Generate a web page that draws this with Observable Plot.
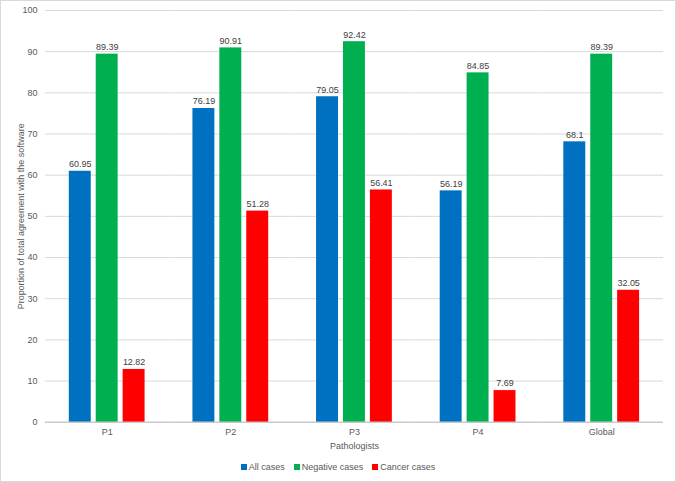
<!DOCTYPE html>
<html>
<head>
<meta charset="utf-8">
<script src="https://cdn.jsdelivr.net/npm/d3@7"></script>
<script src="https://cdn.jsdelivr.net/npm/@observablehq/plot@0.6"></script>
<style>
  html, body { margin: 0; padding: 0; background: #fff; }
  #chart { position: relative; width: 676px; height: 482px; box-sizing: border-box; border: 1px solid #d9d9d9; overflow: hidden; font-family: "Liberation Sans", sans-serif; }
  #chart svg { position: absolute; left: -1px; top: -1px; }
  #legend { position: absolute; left: 0; top: 461px; width: 100%; display: flex; justify-content: center; gap: 9px; font-size: 9px; color: #595959; }
  #legend span.sw { display: inline-block; width: 6px; height: 6px; margin-right: 2px; vertical-align: 0px; }
</style>
</head>
<body>
<div id="chart"></div>
<script>
const groups = ["P1", "P2", "P3", "P4", "Global"];
const seriesNames = ["All cases", "Negative cases", "Cancer cases"];
const allCases = [60.95, 76.19, 79.05, 56.19, 68.1];
const negativeCases = [89.39, 90.91, 92.42, 84.85, 89.39];
const cancerCases = [12.82, 51.28, 56.41, 7.69, 32.05];
const seriesColors = ["#0070C0", "#00B050", "#FF0000"];
const yTicks = [0, 10, 20, 30, 40, 50, 60, 70, 80, 90, 100];
const xTitle = "Pathologists";
const yTitle = "Proportion of total agreement with the software";

const seriesValues = [allCases, negativeCases, cancerCases];
const data = [];
groups.forEach((g, i) => {
  seriesNames.forEach((s, j) => data.push({group: g, series: s, value: seriesValues[j][i]}));
});

const chart = Plot.plot({
  width: 676,
  height: 458,
  marginLeft: 44,
  marginRight: 11,
  marginTop: 10,
  marginBottom: 35,
  style: {fontFamily: "Liberation Sans, sans-serif", fontSize: "9px", color: "#595959", background: "transparent"},
  fx: {domain: groups, padding: 0, label: null},
  x: {domain: seriesNames, paddingInner: 0.2, paddingOuter: 0.86, axis: null},
  y: {domain: [0, 100]},
  color: {domain: seriesNames, range: seriesColors},
  marks: [
    Plot.gridY(yTicks, {stroke: "#d9d9d9", strokeOpacity: 1}),
    Plot.axisY(yTicks, {tickSize: 0, tickPadding: 8, label: yTitle, labelAnchor: "center", labelOffset: 28, labelArrow: "none"}),
    Plot.axisFx({anchor: "bottom", tickSize: 0, tickPadding: 6, label: xTitle, labelAnchor: "center", labelOffset: 27, labelArrow: "none"}),
    Plot.barY(data, {fx: "group", x: "series", y: "value", fill: "series"}),
    Plot.ruleY([0], {stroke: "#bfbfbf"}),
    Plot.text(data, {fx: "group", x: "series", y: "value", text: d => String(d.value), dy: -7, fill: "#404040"})
  ]
});
const root = document.getElementById("chart");
root.appendChild(chart);

const legend = document.createElement("div");
legend.id = "legend";
seriesNames.forEach((s, j) => {
  const item = document.createElement("div");
  const sw = document.createElement("span");
  sw.className = "sw";
  sw.style.background = seriesColors[j];
  item.appendChild(sw);
  item.appendChild(document.createTextNode(s));
  legend.appendChild(item);
});
root.appendChild(legend);
</script>
</body>
</html>
